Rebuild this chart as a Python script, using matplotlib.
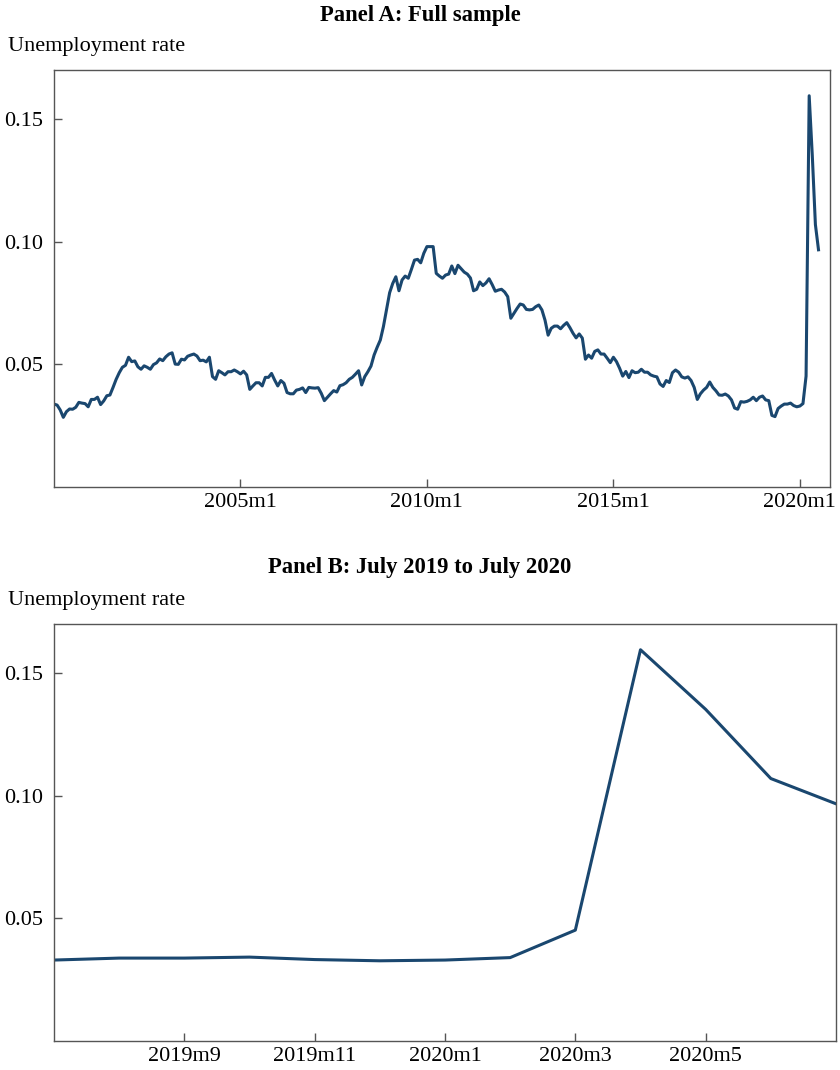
import numpy as np
import pandas as pd
import matplotlib
matplotlib.use("Agg")
import matplotlib.pyplot as plt

plt.rcParams['font.family'] = ['Liberation Serif', 'DejaVu Serif']

# Monthly unemployment rate, 2000m1 - 2019m6
rate_2000_2019 = [
    0.0338, 0.0334, 0.0314, 0.0284, 0.0307, 0.0318, 0.0317, 0.0325, 0.0345, 0.0342,
    0.0340, 0.0327, 0.0357, 0.0357, 0.0366, 0.0336, 0.0351, 0.0372, 0.0375, 0.0406,
    0.0439, 0.0466, 0.0488, 0.0496, 0.0529, 0.0511, 0.0514, 0.0490, 0.0480, 0.0494,
    0.0488, 0.0480, 0.0499, 0.0506, 0.0522, 0.0515, 0.0531, 0.0542, 0.0547, 0.0501,
    0.0500, 0.0521, 0.0518, 0.0533, 0.0538, 0.0542, 0.0534, 0.0515, 0.0517, 0.0510,
    0.0529, 0.0450, 0.0439, 0.0474, 0.0466, 0.0457, 0.0470, 0.0470, 0.0477, 0.0470,
    0.0461, 0.0472, 0.0457, 0.0398, 0.0412, 0.0425, 0.0425, 0.0412, 0.0447, 0.0447,
    0.0463, 0.0436, 0.0412, 0.0434, 0.0423, 0.0385, 0.0380, 0.0380, 0.0395, 0.0398,
    0.0404, 0.0385, 0.0406, 0.0404, 0.0403, 0.0405, 0.0382, 0.0352, 0.0366, 0.0380,
    0.0393, 0.0387, 0.0413, 0.0417, 0.0425, 0.0439, 0.0447, 0.0460, 0.0474, 0.0416,
    0.0450, 0.0470, 0.0493, 0.0538, 0.0570, 0.0599, 0.0654, 0.0722, 0.0792, 0.0830,
    0.0857, 0.0800, 0.0844, 0.0860, 0.0851, 0.0887, 0.0925, 0.0928, 0.0914, 0.0953,
    0.0980, 0.0980, 0.0980, 0.0871, 0.0860, 0.0851, 0.0864, 0.0868, 0.0901, 0.0870,
    0.0904, 0.0890, 0.0876, 0.0868, 0.0852, 0.0800, 0.0806, 0.0836, 0.0821, 0.0832,
    0.0849, 0.0825, 0.0798, 0.0803, 0.0806, 0.0795, 0.0776, 0.0688, 0.0708, 0.0728,
    0.0746, 0.0742, 0.0724, 0.0722, 0.0724, 0.0735, 0.0742, 0.0722, 0.0680, 0.0619,
    0.0647, 0.0656, 0.0656, 0.0645, 0.0659, 0.0670, 0.0650, 0.0627, 0.0608, 0.0624,
    0.0607, 0.0521, 0.0538, 0.0525, 0.0553, 0.0559, 0.0542, 0.0542, 0.0525, 0.0507,
    0.0529, 0.0511, 0.0484, 0.0452, 0.0471, 0.0446, 0.0474, 0.0466, 0.0468, 0.0480,
    0.0468, 0.0468, 0.0457, 0.0452, 0.0449, 0.0420, 0.0410, 0.0434, 0.0426, 0.0466,
    0.0477, 0.0468, 0.0449, 0.0444, 0.0449, 0.0434, 0.0406, 0.0357, 0.0380, 0.0395,
    0.0406, 0.0428, 0.0406, 0.0392, 0.0375, 0.0374, 0.0379, 0.0371, 0.0355, 0.0322,
    0.0317, 0.0348, 0.0346, 0.0349, 0.0355, 0.0366, 0.0352, 0.0366, 0.0371, 0.0355,
    0.0352, 0.0292, 0.0287, 0.0320,
]

# July 2019 - July 2020
rate_recent = [0.0330, 0.0338, 0.0338, 0.0342, 0.0332, 0.0327, 0.0330,
               0.0340, 0.0452, 0.1595, 0.1352, 0.1070, 0.0967]

ticks_a = ["2005m1", "2010m1", "2015m1", "2020m1"]
ticks_b = ["2019m9", "2019m11", "2020m1", "2020m3", "2020m5"]
yticks = [0.05, 0.10, 0.15]

rate = np.array(rate_2000_2019 + rate_recent)
months = pd.period_range("2000-01", periods=len(rate), freq="M")
x = np.arange(len(rate))
labels = [f"{p.year}m{p.month}" for p in months]
pos = {lab: i for i, lab in enumerate(labels)}
n_recent = len(rate_recent)

line_color = '#1a476f'
spine_color = '#555555'


def style(ax, xt):
    for s in ax.spines.values():
        s.set_color(spine_color)
        s.set_linewidth(1.0)
    ax.set_ylim(0, 0.17)
    ax.set_yticks(yticks)
    ax.set_yticklabels([f"{v:.2f}" for v in yticks])
    ax.set_xticks([pos[t] for t in xt])
    ax.set_xticklabels(xt)
    ax.tick_params(direction='in', length=6, width=1.0, color=spine_color,
                   labelsize=16, labelcolor='black')
    ax.tick_params(axis='x', pad=4)
    ax.tick_params(axis='y', pad=7.5)


fig = plt.figure(figsize=(8.4, 10.7), dpi=100)

# Panel A
axA = fig.add_axes([54/840, 1 - 487/1070, 776/840, 417/1070])
axA.plot(x, rate, color=line_color, lw=2.2)
axA.set_xlim(0, 249.7)
style(axA, ticks_a)
fig.text(0.5, 1 - 15/1070, "Panel A: Full sample", ha='center', va='center',
         fontsize=16.3, fontweight='bold')
fig.text(8/840, 1 - 47/1070, "Unemployment rate", ha='left', va='center', fontsize=16)

# Panel B
axB = fig.add_axes([54/840, 1 - 1041/1070, 782/840, 417/1070])
axB.plot(x[-n_recent:], rate[-n_recent:], color=line_color, lw=2.2)
axB.set_xlim(x[-n_recent], x[-1])
style(axB, ticks_b)
fig.text(0.5, 1 - 568/1070, "Panel B: July 2019 to July 2020", ha='center', va='center',
         fontsize=16.3, fontweight='bold')
fig.text(8/840, 1 - 601/1070, "Unemployment rate", ha='left', va='center', fontsize=16)

fig.savefig("out.png", dpi=100)
